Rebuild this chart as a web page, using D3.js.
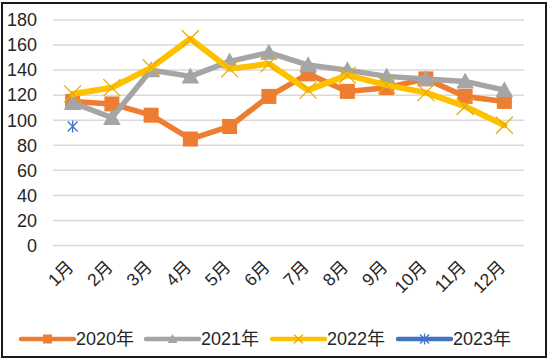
<!DOCTYPE html>
<html>
<head>
<meta charset="utf-8">
<script src="https://cdn.jsdelivr.net/npm/d3@7"></script>
<style>
  body { margin: 0; background: #fff; }
  text { font-family: "Liberation Sans", "Noto Sans CJK SC", sans-serif; fill: #262626; }
</style>
</head>
<body>
<svg id="chart" width="550" height="362"></svg>
<script>
// months on the x axis
const months = ["1月","2月","3月","4月","5月","6月","7月","8月","9月","10月","11月","12月"];
const yTicks = [0,20,40,60,80,100,120,140,160,180];

// values
const v2020 = [115,113,104,85,95,119,137,123,126,133,119,115];
const v2021 = [114,102,140,135,147,154,144,140,135,133,131,124];
const v2022 = [121,126,142,165,141,145,124,136,128,122,111,96];
const v2023 = [95];

const seriesNames = ["2020年","2021年","2022年","2023年"];
const seriesColors = ["#ED7D31","#A5A5A5","#FFC000","#4472C4"];

const svg = d3.select("#chart");

// frame
svg.append("rect")
  .attr("x", 2).attr("y", 3)
  .attr("width", 544).attr("height", 354)
  .attr("fill", "#fff")
  .attr("stroke", "#1a1a1a")
  .attr("stroke-width", 2);

const x = d3.scaleBand().domain(months).range([53, 524]);
const y = d3.scaleLinear().domain([0, 180]).range([245.5, 20]);

// grid
svg.append("g").selectAll("line")
  .data(yTicks)
  .join("line")
  .attr("x1", 53).attr("x2", 524)
  .attr("y1", d => y(d)).attr("y2", d => y(d))
  .attr("stroke", "#d9d9d9")
  .attr("stroke-width", 1.5);

// y labels
svg.append("g").selectAll("text")
  .data(yTicks)
  .join("text")
  .attr("x", 37)
  .attr("y", d => y(d))
  .attr("dy", "0.35em")
  .attr("text-anchor", "end")
  .attr("font-size", 18)
  .text(d => d);

// x labels, rotated
svg.append("g").selectAll("text")
  .data(months)
  .join("text")
  .attr("text-anchor", "end")
  .attr("font-size", 17.5)
  .attr("transform", d => `translate(${x(d) + x.bandwidth()/2 + 2},${268}) rotate(-45)`)
  .text(d => d);

const cx = d => x(d) + x.bandwidth() / 2;
const line = d3.line().x((d, i) => cx(months[i])).y(d => y(d));

function drawMarker(g, kind, color, size) {
  if (kind === "square") {
    g.append("rect").attr("x", -size/2).attr("y", -size/2)
      .attr("width", size).attr("height", size).attr("fill", color);
  } else if (kind === "triangle") {
    g.append("path")
      .attr("d", `M0,${-size*0.55}L${size*0.55},${size*0.45}L${-size*0.55},${size*0.45}Z`)
      .attr("fill", color);
  } else if (kind === "x") {
    const s = size/2;
    g.append("path").attr("d", `M${-s},${-s}L${s},${s}M${-s},${s}L${s},${-s}`)
      .attr("stroke", "#E5AD00").attr("stroke-width", 1.3).attr("fill", "none");
  } else if (kind === "star") {
    const s = size/2;
    g.append("path").attr("d", `M${-s},${-s}L${s},${s}M${-s},${s}L${s},${-s}M0,${-s*1.2}L0,${s*1.2}`)
      .attr("stroke", color).attr("stroke-width", 1.3).attr("fill", "none");
  }
}

const allSeries = [
  { vals: v2020, kind: "square", size: 15, width: 5.5 },
  { vals: v2021, kind: "triangle", size: 16, width: 5.5 },
  { vals: v2022, kind: "x", size: 17, width: 6 },
  { vals: v2023, kind: "star", size: 10, width: 5 }
];

allSeries.forEach((s, k) => {
  const g = svg.append("g");
  if (s.vals.length > 1) {
    g.append("path")
      .datum(s.vals)
      .attr("d", line)
      .attr("fill", "none")
      .attr("stroke", seriesColors[k])
      .attr("stroke-width", s.width)
      .attr("stroke-linejoin", "round")
      .attr("stroke-linecap", "round");
  }
  s.vals.forEach((v, i) => {
    const mg = g.append("g").attr("transform", `translate(${cx(months[i])},${y(v)})`);
    drawMarker(mg, s.kind, seriesColors[k], s.size);
  });
});

// legend
const legendX = [21, 146, 272, 398];
const legY = 339;
seriesNames.forEach((name, k) => {
  const g = svg.append("g").attr("transform", `translate(${legendX[k]},${legY})`);
  g.append("line")
    .attr("x1", 0).attr("x2", 53).attr("y1", 0).attr("y2", 0)
    .attr("stroke", seriesColors[k]).attr("stroke-width", 4.5)
    .attr("stroke-linecap", "round");
  const mg = g.append("g").attr("transform", "translate(26.5,0)");
  const kinds = ["square","triangle","x","star"];
  drawMarker(mg, kinds[k], seriesColors[k], 9);
  g.append("text")
    .attr("x", 55).attr("y", 0).attr("dy", "0.36em")
    .attr("font-size", 18)
    .text(name);
});
</script>
</body>
</html>
